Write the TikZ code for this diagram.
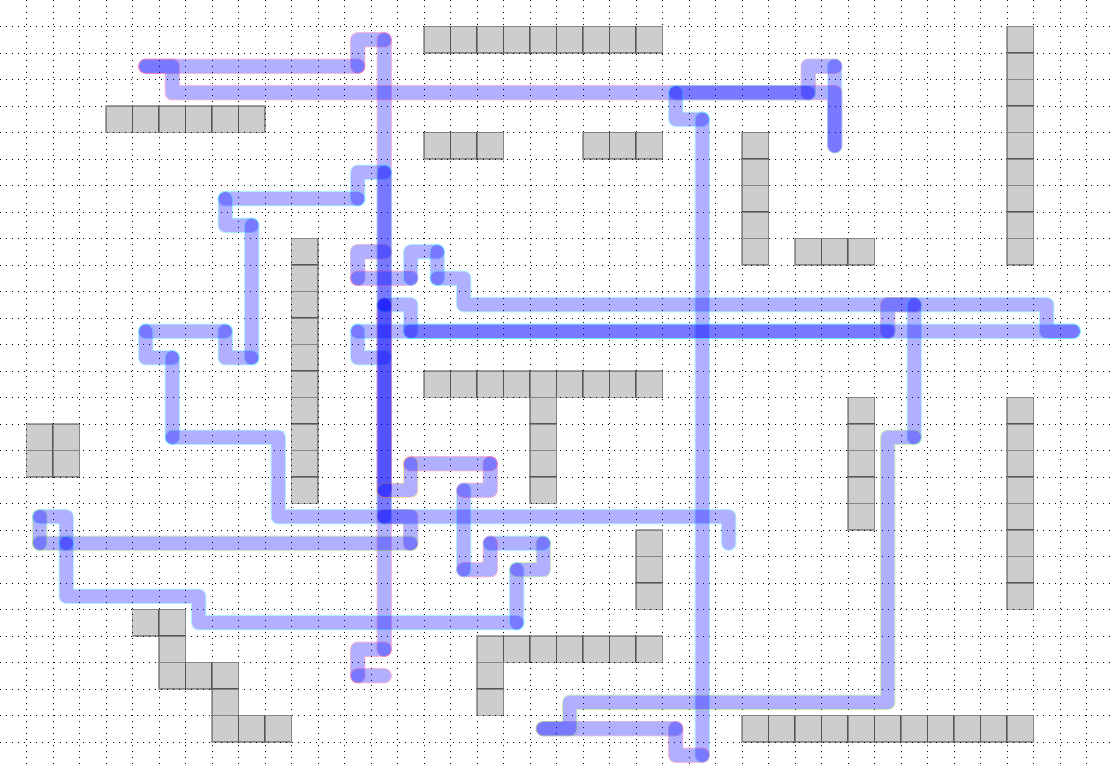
\documentclass[tikz,border=0pt]{standalone}
\definecolor{wireblue}{RGB}{0,0,255}
\definecolor{blockgray}{RGB}{205,205,205}
\definecolor{olp}{RGB}{225,20,140}
\definecolor{olc}{RGB}{0,210,255}
\definecolor{olg}{RGB}{90,200,40}
\definecolor{olu}{RGB}{140,40,150}
\definecolor{olo}{RGB}{235,150,0}
\newcommand\mywire[2]{%
  \begin{scope}[transparency group, opacity=0.31]
    \draw[wireedge,#1] #2;
    \draw[wirecore] #2;
  \end{scope}}
\begin{document}
\begin{tikzpicture}[x=0.5cm,y=-0.5cm,
  gridline/.style={black, line width=0.4pt, dash pattern=on 0.5pt off 2.7pt},
  block/.style={fill=blockgray, draw=black, draw opacity=0.35, line width=0.55pt},
  wireedge/.style={line width=0.29cm, line cap=round, line join=round},
  wirecore/.style={wireblue, line width=0.25cm, line cap=round, line join=round}]
\fill[white] (0,0) rectangle (42,29);
\useasboundingbox (0,0) rectangle (42,29);
% grid
\foreach \i in {1,...,41} \draw[gridline] (\i,0) -- (\i,29);
\foreach \j in {1,...,28} \draw[gridline] (0,\j) -- (42,\j);
% obstacles
\foreach \c in {16,...,24} \draw[block] (\c,1) rectangle ++(1,1);
\foreach \c in {4,...,9} \draw[block] (\c,4) rectangle ++(1,1);
\foreach \c in {16,17,18,22,23,24} \draw[block] (\c,5) rectangle ++(1,1);
\foreach \r in {1,...,9} \draw[block] (38,\r) rectangle ++(1,1);
\foreach \r in {5,...,9} \draw[block] (28,\r) rectangle ++(1,1);
\foreach \c in {30,31,32} \draw[block] (\c,9) rectangle ++(1,1);
\foreach \r in {9,...,18} \draw[block] (11,\r) rectangle ++(1,1);
\foreach \c in {16,...,24} \draw[block] (\c,14) rectangle ++(1,1);
\foreach \r in {15,...,18} \draw[block] (20,\r) rectangle ++(1,1);
\foreach \r in {15,...,19} \draw[block] (32,\r) rectangle ++(1,1);
\foreach \r in {15,...,22} \draw[block] (38,\r) rectangle ++(1,1);
\foreach \c/\r in {1/16,2/16,1/17,2/17} \draw[block] (\c,\r) rectangle ++(1,1);
\foreach \r in {20,21,22} \draw[block] (24,\r) rectangle ++(1,1);
\foreach \c/\r in {5/23,6/23,6/24,6/25,7/25,8/25,8/26,8/27,9/27,10/27}
  \draw[block] (\c,\r) rectangle ++(1,1);
\foreach \c in {18,...,24} \draw[block] (\c,24) rectangle ++(1,1);
\foreach \r in {25,26} \draw[block] (18,\r) rectangle ++(1,1);
\foreach \c in {28,...,38} \draw[block] (\c,27) rectangle ++(1,1);
% wires (cell centres)
\begin{scope}[shift={(0.5,0.5)}]
\mywire{olp}{(5,2) -- (13,2)}
\mywire{olp}{(13,2) -- (13,1) -- (14,1)}
\mywire{olp}{(14,1) -- (14,24)}
\mywire{olp}{(14,24) -- (13,24) -- (13,25)}
\mywire{olp}{(13,25) -- (14,25)}
\mywire{olp}{(5,2) -- (6,2) -- (6,3) -- (31,3) -- (31,5)}
\mywire{olc}{(31,5) -- (31,2)}
\mywire{olu}{(31,2) -- (30,2) -- (30,3)}
\mywire{olc}{(30,3) -- (25,3)}
\mywire{olc}{(25,3) -- (25,4) -- (26,4)}
\mywire{olc}{(26,4) -- (26,28)}
\mywire{olp}{(26,28) -- (25,28) -- (25,27)}
\mywire{olu}{(25,27) -- (20,27)}
\mywire{olc}{(14,6) -- (13,6) -- (13,7)}
\mywire{olc}{(13,7) -- (8,7)}
\mywire{olc}{(8,7) -- (8,8) -- (9,8)}
\mywire{olc}{(9,8) -- (9,13)}
\mywire{olc}{(9,13) -- (8,13) -- (8,12)}
\mywire{olc}{(8,12) -- (5,12)}
\mywire{olc}{(5,12) -- (5,13) -- (6,13)}
\mywire{olc}{(6,13) -- (6,16)}
\mywire{olc}{(6,16) -- (10,16) -- (10,19) -- (27,19) -- (27,20)}
\mywire{olc}{(14,6) -- (14,11)}
\mywire{olu}{(14,9) -- (13,9) -- (13,10)}
\mywire{olp}{(13,10) -- (15,10)}
\mywire{olc}{(15,10) -- (15,9) -- (16,9)}
\mywire{olc}{(16,9) -- (16,10)}
\mywire{olc}{(16,10) -- (17,10) -- (17,11) -- (39,11) -- (39,12) -- (40,12)}
\mywire{olc}{(14,11) -- (15,11) -- (15,12)}
\mywire{olc}{(15,12) -- (33,12)}
\mywire{olu}{(33,12) -- (33,11) -- (34,11)}
\mywire{olc}{(34,11) -- (34,16)}
\mywire{olg}{(34,16) -- (33,16) -- (33,26) -- (21,26) -- (21,27) -- (20,27)}
\mywire{olc}{(13,12) -- (40,12)}
\mywire{olc}{(13,12) -- (13,13) -- (14,13)}
\mywire{olc}{(14,11) -- (14,19)}
\mywire{olp}{(14,11) -- (14,18)}
\mywire{olu}{(14,19) -- (15,19) -- (15,20)}
\mywire{olg}{(15,20) -- (1,20)}
\mywire{olg}{(1,20) -- (1,19)}
\mywire{olc}{(1,19) -- (2,19) -- (2,20)}
\mywire{olc}{(2,20) -- (2,22) -- (7,22) -- (7,23) -- (19,23)}
\mywire{olc}{(19,23) -- (19,21)}
\mywire{olg}{(19,21) -- (20,21) -- (20,20)}
\mywire{olc}{(20,20) -- (18,20)}
\mywire{olp}{(18,20) -- (18,21) -- (17,21)}
\mywire{olc}{(17,21) -- (17,18)}
\mywire{olp}{(17,18) -- (18,18) -- (18,17)}
\mywire{olp}{(18,17) -- (15,17)}
\mywire{olo}{(15,17) -- (15,18) -- (14,18)}
\end{scope}
\end{tikzpicture}
\end{document}
